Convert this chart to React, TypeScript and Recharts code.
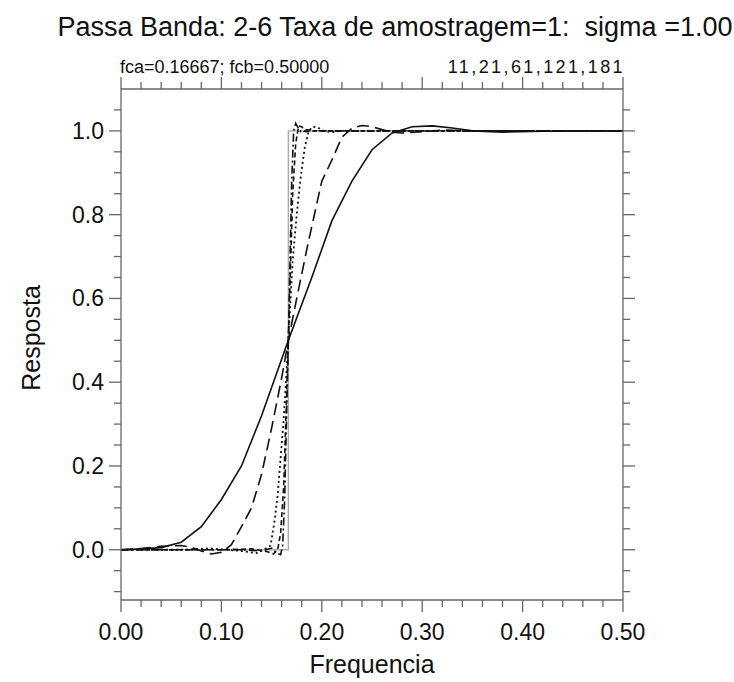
import { LineChart, Line, XAxis, YAxis } from 'recharts';

// Response curves for the 2-6 band-pass filter, one per number of weights
const ideal = [
  { f: 0, r: 0 }, { f: 0.1667, r: 0 }, { f: 0.1667, r: 1 }, { f: 0.5, r: 1 },
];

const w11 = [
  { f: 0, r: 0 }, { f: 0.02, r: 0.002 }, { f: 0.04, r: 0.005 }, { f: 0.06, r: 0.018 },
  { f: 0.08, r: 0.055 }, { f: 0.1, r: 0.12 }, { f: 0.12, r: 0.2 }, { f: 0.14, r: 0.32 },
  { f: 0.1667, r: 0.5 }, { f: 0.19, r: 0.65 }, { f: 0.21, r: 0.785 }, { f: 0.23, r: 0.88 },
  { f: 0.25, r: 0.955 }, { f: 0.27, r: 0.995 }, { f: 0.29, r: 1.01 }, { f: 0.31, r: 1.012 },
  { f: 0.33, r: 1.007 }, { f: 0.35, r: 1.0 }, { f: 0.38, r: 0.997 }, { f: 0.42, r: 0.999 },
  { f: 0.46, r: 1.0 }, { f: 0.5, r: 1.0 },
];

const w21 = [
  { f: 0, r: 0 }, { f: 0.02, r: 0.003 }, { f: 0.04, r: 0.008 }, { f: 0.06, r: 0.01 },
  { f: 0.07, r: 0.006 }, { f: 0.08, r: -0.003 }, { f: 0.09, r: -0.01 }, { f: 0.1, r: -0.006 },
  { f: 0.11, r: 0.012 }, { f: 0.12, r: 0.055 }, { f: 0.13, r: 0.1 }, { f: 0.14, r: 0.18 },
  { f: 0.15, r: 0.29 }, { f: 0.16, r: 0.41 }, { f: 0.1667, r: 0.5 }, { f: 0.175, r: 0.6 },
  { f: 0.186, r: 0.728 }, { f: 0.2, r: 0.88 }, { f: 0.21, r: 0.93 }, { f: 0.22, r: 0.985 },
  { f: 0.23, r: 1.006 }, { f: 0.24, r: 1.013 }, { f: 0.25, r: 1.01 }, { f: 0.26, r: 1.003 },
  { f: 0.27, r: 0.997 }, { f: 0.28, r: 0.995 }, { f: 0.3, r: 0.998 }, { f: 0.32, r: 1.002 },
  { f: 0.35, r: 1.0 }, { f: 0.5, r: 1.0 },
];

const w61 = [
  { f: 0, r: 0 }, { f: 0.06, r: 0 }, { f: 0.09, r: 0.003 }, { f: 0.12, r: -0.003 },
  { f: 0.135, r: -0.008 }, { f: 0.142, r: 0 }, { f: 0.149, r: 0.01 }, { f: 0.153, r: 0.07 },
  { f: 0.156, r: 0.13 }, { f: 0.159, r: 0.22 }, { f: 0.162, r: 0.31 }, { f: 0.1667, r: 0.5 },
  { f: 0.171, r: 0.69 }, { f: 0.175, r: 0.8 }, { f: 0.179, r: 0.89 }, { f: 0.183, r: 0.96 },
  { f: 0.187, r: 1.0 }, { f: 0.191, r: 1.01 }, { f: 0.196, r: 1.008 }, { f: 0.202, r: 1.0 },
  { f: 0.21, r: 0.997 }, { f: 0.22, r: 1.0 }, { f: 0.5, r: 1.0 },
];

const w121 = [
  { f: 0, r: 0 }, { f: 0.1, r: 0 }, { f: 0.13, r: 0.002 }, { f: 0.145, r: -0.004 },
  { f: 0.152, r: -0.01 }, { f: 0.156, r: 0 }, { f: 0.159, r: 0.04 }, { f: 0.162, r: 0.15 },
  { f: 0.1667, r: 0.5 }, { f: 0.171, r: 0.85 }, { f: 0.174, r: 0.97 }, { f: 0.177, r: 1.012 },
  { f: 0.18, r: 1.01 }, { f: 0.184, r: 0.998 }, { f: 0.19, r: 1.0 }, { f: 0.5, r: 1.0 },
];

const w181 = [
  { f: 0, r: 0 }, { f: 0.12, r: 0 }, { f: 0.14, r: -0.003 }, { f: 0.15, r: 0.004 },
  { f: 0.155, r: -0.008 }, { f: 0.159, r: -0.012 }, { f: 0.161, r: 0.01 }, { f: 0.163, r: 0.12 },
  { f: 0.1667, r: 0.5 }, { f: 0.17, r: 0.88 }, { f: 0.172, r: 1.0 }, { f: 0.174, r: 1.018 },
  { f: 0.177, r: 1.005 }, { f: 0.18, r: 0.995 }, { f: 0.185, r: 1.003 }, { f: 0.19, r: 1.0 },
  { f: 0.5, r: 1.0 },
];

const xTicks = [
  0, 0.02, 0.04, 0.06, 0.08, 0.1, 0.12, 0.14, 0.16, 0.18, 0.2, 0.22, 0.24, 0.26,
  0.28, 0.3, 0.32, 0.34, 0.36, 0.38, 0.4, 0.42, 0.44, 0.46, 0.48, 0.5,
];
const xLabels = [0, 0.1, 0.2, 0.3, 0.4, 0.5];

const yTicks = [
  -0.1, -0.05, 0, 0.05, 0.1, 0.15, 0.2, 0.25, 0.3, 0.35, 0.4, 0.45, 0.5,
  0.55, 0.6, 0.65, 0.7, 0.75, 0.8, 0.85, 0.9, 0.95, 1.0, 1.05,
];
const yLabels = [0, 0.2, 0.4, 0.6, 0.8, 1.0];

const FONT = '"Liberation Sans", Arial, Helvetica, sans-serif';
const AXIS = '#666';
const INK = '#111';

const isLabel = (v: number, list: number[]) => list.some(l => Math.abs(l - v) < 1e-6);

const XTick = (props: any) => {
  const { x, y, payload, side } = props;
  const major = isLabel(payload.value, xLabels);
  const len = major ? 12 : 7;
  const dir = side === 'bottom' ? 1 : -1;
  return (
    <g>
      <line x1={x} x2={x} y1={y} y2={y + dir * len} stroke={AXIS} strokeWidth={1.3} />
      {side === 'bottom' && major && (
        <text x={x} y={y + 40} textAnchor="middle" fontFamily={FONT} fontSize={23} fill={INK}>
          {payload.value.toFixed(2)}
        </text>
      )}
    </g>
  );
};

const YTick = (props: any) => {
  const { x, y, payload, side } = props;
  const major = isLabel(payload.value, yLabels);
  const len = major ? 12 : 7;
  const dir = side === 'left' ? -1 : 1;
  return (
    <g>
      <line x1={x} x2={x + dir * len} y1={y} y2={y} stroke={AXIS} strokeWidth={1.3} />
      {side === 'left' && major && (
        <text x={x - 17} y={y + 8} textAnchor="end" fontFamily={FONT} fontSize={23} fill={INK}>
          {payload.value.toFixed(1)}
        </text>
      )}
    </g>
  );
};

export default function App() {
  const lineProps = {
    xAxisId: 'b',
    yAxisId: 'l',
    dataKey: 'r',
    type: 'linear' as const,
    dot: false,
    activeDot: false,
    isAnimationActive: false,
  };

  return (
    <div style={{ position: 'absolute', left: 0, top: 0, width: 734, height: 682, background: '#fff', fontFamily: FONT }}>
      <div style={{ position: 'absolute', left: 395, top: 12, transform: 'translateX(-50%)', fontSize: 27, color: INK, whiteSpace: 'pre' }}>
        {'Passa Banda: 2-6 Taxa de amostragem=1:  sigma =1.00'}
      </div>
      <div style={{ position: 'absolute', left: 120, top: 57, fontSize: 18, color: INK, whiteSpace: 'pre' }}>
        fca=0.16667; fcb=0.50000
      </div>
      <div style={{ position: 'absolute', right: 734 - 625, top: 57, fontSize: 18, letterSpacing: 2.4, color: INK, whiteSpace: 'pre' }}>
        11,21,61,121,181
      </div>
      <div style={{ position: 'absolute', left: 31, top: 338, fontSize: 25, color: INK, whiteSpace: 'pre', transform: 'translate(-50%, -50%) rotate(-90deg)' }}>
        Resposta
      </div>
      <div style={{ position: 'absolute', left: 372, top: 664, fontSize: 25, color: INK, whiteSpace: 'pre', transform: 'translate(-50%, -50%)' }}>
        Frequencia
      </div>

      <LineChart width={734} height={682} margin={{ top: 88, right: 110, bottom: 81, left: 120 }}>
        <XAxis xAxisId="b" type="number" dataKey="f" domain={[0, 0.5]} ticks={xTicks} interval={0}
          height={1} tickSize={0} tickMargin={0} tickLine={false}
          axisLine={{ stroke: AXIS, strokeWidth: 1.3 }} tick={<XTick side="bottom" />} allowDataOverflow />
        <XAxis xAxisId="t" orientation="top" type="number" dataKey="f" domain={[0, 0.5]} ticks={xTicks} interval={0}
          height={1} tickSize={0} tickMargin={0} tickLine={false}
          axisLine={{ stroke: AXIS, strokeWidth: 1.3 }} tick={<XTick side="top" />} allowDataOverflow />
        <YAxis yAxisId="l" type="number" domain={[-0.12, 1.1]} ticks={yTicks} interval={0}
          width={1} tickSize={0} tickMargin={0} tickLine={false}
          axisLine={{ stroke: AXIS, strokeWidth: 1.3 }} tick={<YTick side="left" />} allowDataOverflow />
        <YAxis yAxisId="r" orientation="right" type="number" domain={[-0.12, 1.1]} ticks={yTicks} interval={0}
          width={1} tickSize={0} tickMargin={0} tickLine={false}
          axisLine={{ stroke: AXIS, strokeWidth: 1.3 }} tick={<YTick side="right" />} allowDataOverflow />

        <Line {...lineProps} data={ideal} stroke="#aaa" strokeWidth={1.4} />
        <Line {...lineProps} data={w11} stroke={INK} strokeWidth={1.6} />
        <Line {...lineProps} data={w21} stroke={INK} strokeWidth={1.6} strokeDasharray="12 6" />
        <Line {...lineProps} data={w61} stroke={INK} strokeWidth={1.8} strokeDasharray="2 3" />
        <Line {...lineProps} data={w121} stroke={INK} strokeWidth={1.6} strokeDasharray="5 3" />
        <Line {...lineProps} data={w181} stroke={INK} strokeWidth={1.6} strokeDasharray="8 3 2 3" />
      </LineChart>
    </div>
  );
}
